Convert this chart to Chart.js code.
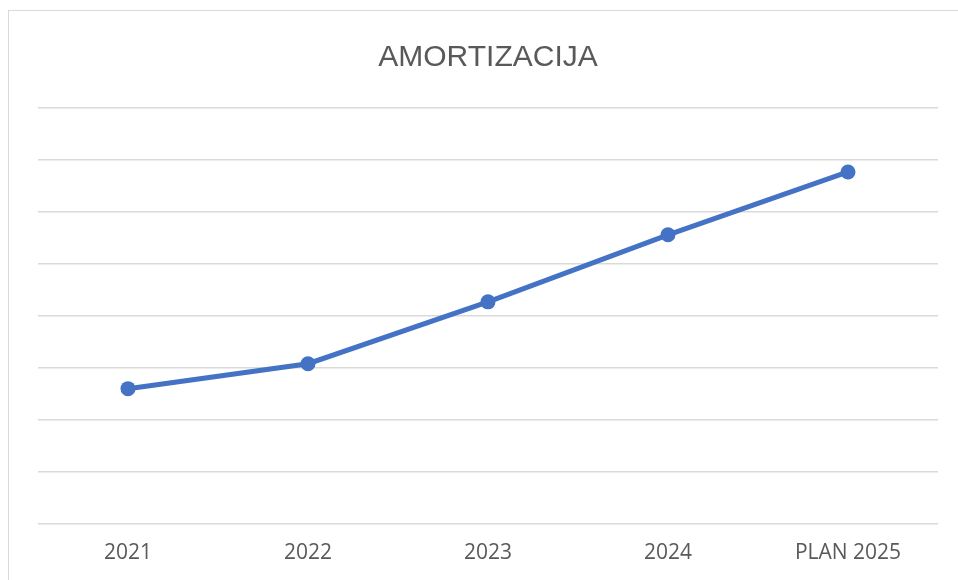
<!DOCTYPE html>
<html>
<head>
<meta charset="utf-8">
<script src="https://cdn.jsdelivr.net/npm/chart.js@4.4.0/dist/chart.umd.min.js"></script>
<style>
  html, body { margin: 0; padding: 0; background: #fff; overflow: hidden; }
  #frame {
    position: absolute; left: 8px; top: 10px; width: 1000px; height: 620px;
    border: 1.5px solid #d9d9d9; box-sizing: border-box;
  }
  #wrap { position: absolute; left: 0; top: 0; width: 958px; height: 580px; }
</style>
</head>
<body>
<div id="frame"></div>
<div id="wrap"><canvas id="amortChart"></canvas></div>
<script>
const years = ['2021', '2022', '2023', '2024', 'PLAN 2025'];
const amortizacija = [2.6, 3.08, 4.27, 5.56, 6.77];
const yMin = 0, yMax = 8, yStep = 1;

const ctx = document.getElementById('amortChart').getContext('2d');
new Chart(ctx, {
    type: 'line',
    data: {
        labels: years,
        datasets: [{
            label: 'AMORTIZACIJA',
            data: amortizacija,
            borderColor: '#4472C4',
            backgroundColor: '#4472C4',
            borderWidth: 5,
            pointRadius: 7.5,
            pointHoverRadius: 7.5,
            pointBorderWidth: 0,
            tension: 0
        }]
    },
    options: {
        responsive: true,
        maintainAspectRatio: false,
        animation: false,
        layout: { padding: { top: 20, left: 38, right: 20, bottom: -3 } },
        plugins: {
            legend: { display: false },
            tooltip: { enabled: false },
            title: {
                display: true,
                text: 'AMORTIZACIJA',
                color: '#595959',
                font: { family: "'Liberation Sans', sans-serif", size: 30, weight: 'normal' },
                padding: { top: 20, bottom: 32 }
            }
        },
        scales: {
            x: {
                offset: true,
                grid: { display: false, drawTicks: false },
                border: { display: false },
                ticks: {
                    color: '#595959',
                    padding: 17,
                    maxRotation: 0,
                    font: { family: "'Open Sans', sans-serif", size: 21 }
                }
            },
            y: {
                min: yMin,
                max: yMax,
                border: { display: false },
                grid: { color: '#d9d9d9', lineWidth: 1.5, drawTicks: false },
                ticks: { display: false, stepSize: yStep }
            }
        }
    }
});
</script>
</body>
</html>
